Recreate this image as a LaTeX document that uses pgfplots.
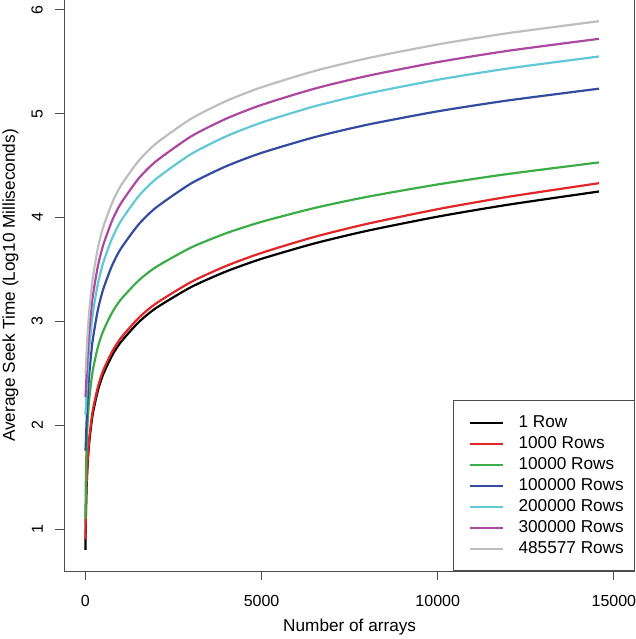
\documentclass[border=0pt]{standalone}
\usepackage{fontspec}
\setmainfont{Liberation Sans}
\usepackage{pgfplots}
\usepackage{pgfplotstable}
\pgfplotsset{compat=1.18}

\definecolor{cRed}{RGB}{226,38,39}
\definecolor{cGreen}{RGB}{60,172,70}
\definecolor{cBlue}{RGB}{52,76,160}
\definecolor{cCyan}{RGB}{98,200,214}
\definecolor{cMagenta}{RGB}{172,72,160}
\definecolor{cGrey}{RGB}{190,190,190}

% log10 of average seek time (ms) against number of arrays
\pgfplotstableread{
n     black red   green blue  cyan  magenta grey
1     0.800 0.900 1.100 1.754 2.100 2.272 2.500
10    1.061 1.131 1.424 1.826 2.153 2.323 2.547
25    1.306 1.359 1.697 1.966 2.264 2.434 2.646
50    1.541 1.586 1.948 2.169 2.439 2.609 2.808
100   1.807 1.845 2.222 2.457 2.709 2.879 3.064
200   2.091 2.127 2.509 2.802 3.050 3.220 3.397
350   2.330 2.365 2.748 3.105 3.356 3.526 3.699
500   2.486 2.522 2.903 3.304 3.559 3.729 3.902
750   2.667 2.704 3.080 3.533 3.794 3.964 4.135
1000  2.798 2.837 3.208 3.697 3.962 4.132 4.303
1500  2.988 3.029 3.390 3.929 4.201 4.371 4.541
2000  3.127 3.171 3.522 4.094 4.370 4.540 4.711
3000  3.330 3.379 3.711 4.328 4.611 4.781 4.951
4000  3.481 3.534 3.849 4.494 4.782 4.952 5.122
5000  3.602 3.659 3.958 4.622 4.914 5.084 5.254
6500  3.750 3.813 4.091 4.773 5.070 5.240 5.410
8000  3.872 3.939 4.199 4.893 5.193 5.363 5.533
10000 4.008 4.080 4.318 5.022 5.326 5.496 5.666
12000 4.123 4.199 4.419 5.127 5.435 5.605 5.775
14577 4.250 4.330 4.530 5.240 5.550 5.720 5.890
}\seek

\begin{document}
\begin{tikzpicture}
\begin{axis}[
scale only axis, width=285.35pt, height=285.5pt,
xmin=-600, xmax=15600, ymin=0.596, ymax=6.094,
xtick={0,5000,10000,15000}, ytick={1,2,3,4,5,6},
scaled x ticks=false,
/pgf/number format/1000 sep={},
/pgf/number format/assume math mode=true,
tick align=outside, major tick length=4.5pt, tick pos=left,
axis line style={black!70, line width=0.5pt},
tick style={black!70, line width=0.5pt},
tick label style={font=\fontsize{8}{9.6}\selectfont, inner sep=0pt},
yticklabel style={rotate=90, anchor=south},
xticklabel style={anchor=north},
yticklabel shift=6pt, xticklabel shift=7.5pt,
xlabel={Number of arrays},
ylabel={Average Seek Time (Log10 Milliseconds)},
every axis x label/.style={at={(axis description cs:0.5,0)}, yshift=-30pt, anchor=base},
every axis y label/.style={at={(axis description cs:0,0.5)}, xshift=-24.65pt, rotate=90, anchor=base},
label style={font=\fontsize{8.6}{10}\selectfont},
legend style={at={(rel axis cs:1,0)}, anchor=south east, draw=black!70, line width=0.5pt,
  fill=white, inner xsep=5.35pt, inner ysep=5.2pt, row sep=-1pt, column sep=7.5pt,
  nodes={inner xsep=0pt},
  font=\fontsize{8.6}{10}\selectfont},
legend cell align=left,
legend image code/.code={\path (0pt,0pt); \draw[#1, sharp plot, line width=1pt] (2.5pt,0pt) -- (18.8pt,0pt);},
curve/.style={line width=1.1pt, smooth, tension=0.4},
]
\addplot[black, curve] table[x=n, y=black] {\seek};
\addplot[cRed, curve] table[x=n, y=red] {\seek};
\addplot[cGreen, curve] table[x=n, y=green] {\seek};
\addplot[cBlue, curve] table[x=n, y=blue] {\seek};
\addplot[cCyan, curve] table[x=n, y=cyan] {\seek};
\addplot[cMagenta, curve] table[x=n, y=magenta] {\seek};
\addplot[cGrey, curve] table[x=n, y=grey] {\seek};
\legend{1 Row, 1000 Rows, 10000 Rows, 100000 Rows, 200000 Rows, 300000 Rows, 485577 Rows}
\coordinate (sw) at (rel axis cs:0,0);
\coordinate (ne) at (rel axis cs:1,1);
\end{axis}
\pgfresetboundingbox
\useasboundingbox ([shift={(-32.15pt,-34pt)}]sw) rectangle ([shift={(0.5pt,0pt)}]ne);
\end{tikzpicture}
\end{document}
